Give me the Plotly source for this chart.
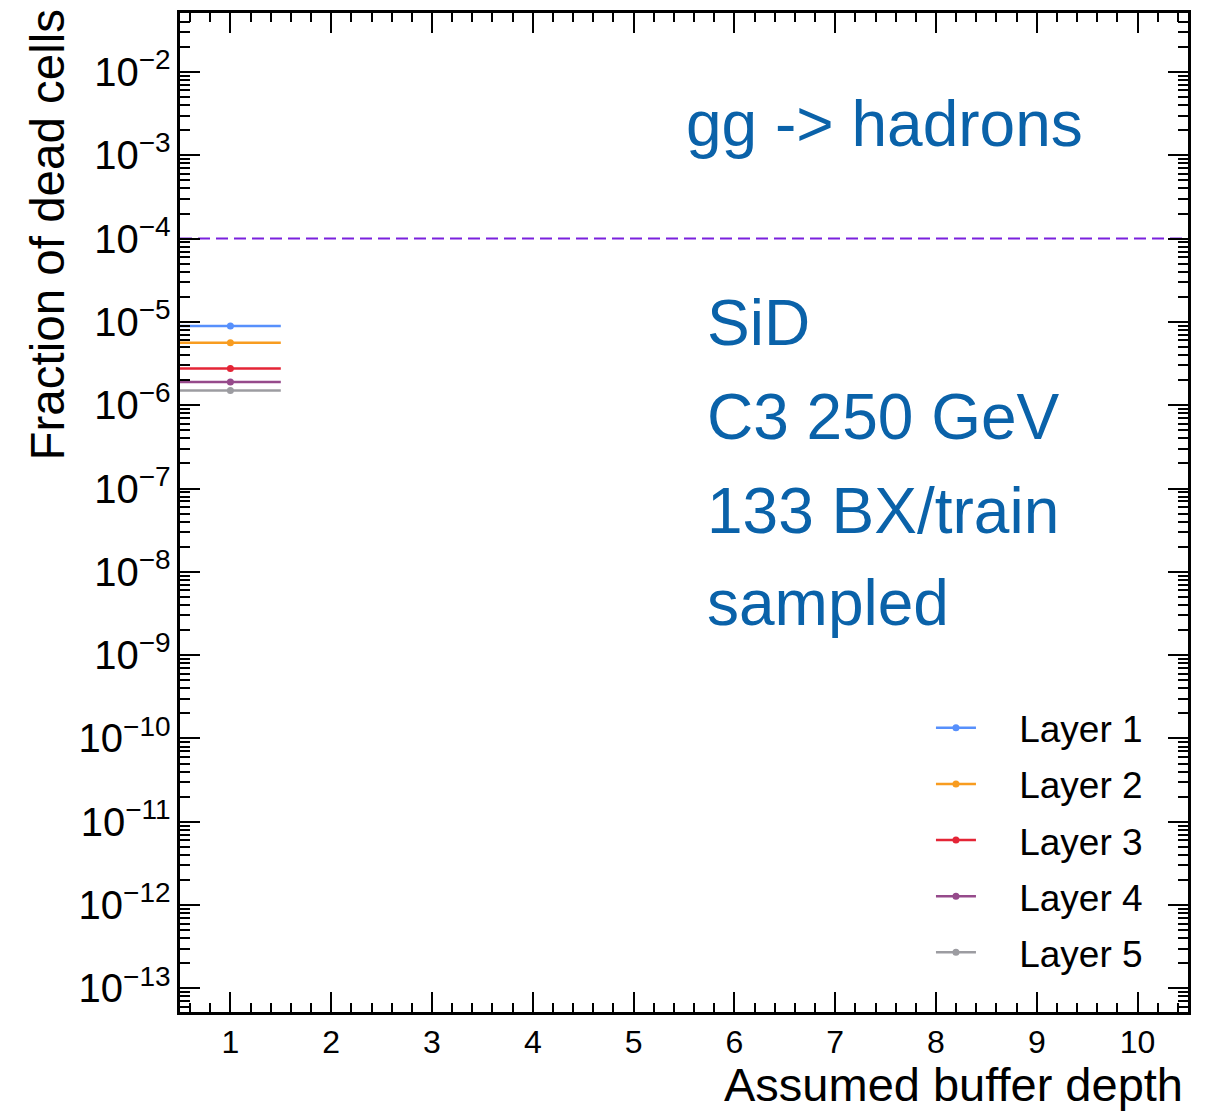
import plotly.graph_objects as go

# ---- data ----
layers = ["Layer 1", "Layer 2", "Layer 3", "Layer 4", "Layer 5"]
buffer_depth = [1]
bin_halfwidth = 0.5
fractions = [8.9e-6, 5.6e-6, 2.75e-6, 1.9e-6, 1.5e-6]
colors = ["#5790fc", "#f89c20", "#e42536", "#964a8b", "#9c9ca1"]
threshold = 1e-4
x_range = [0.5, 10.5]
x_ticks = [1, 2, 3, 4, 5, 6, 7, 8, 9, 10]
y_log_range = [-13.284, -1.292]
text_lines = ["SiD", "C3 250 GeV", "133 BX/train", "sampled"]
process_label = "gg -> hadrons"

FONT = "Liberation Sans, Arial, Helvetica, sans-serif"
TXT_BLUE = "#0a62a9"

fig = go.Figure()

# threshold dashed line
fig.add_trace(go.Scatter(
    x=x_range, y=[threshold, threshold], mode="lines",
    line=dict(color="#7a21dd", width=2, dash="12px,6px"),
    showlegend=False, hoverinfo="skip"))

for name, val, col in zip(layers, fractions, colors):
    fig.add_trace(go.Scatter(
        x=buffer_depth, y=[val], mode="markers",
        marker=dict(color=col, size=7),
        error_x=dict(type="constant", value=bin_halfwidth, width=0,
                     thickness=2.5, color=col),
        showlegend=False, name=name))
    # legend proxy
    fig.add_trace(go.Scatter(
        x=[None], y=[None], mode="lines+markers",
        name="&nbsp;&nbsp;&nbsp;\u2009" + name,
        line=dict(color=col, width=2.5), marker=dict(color=col, size=7),
        legendgroup=name, showlegend=True))

axis_common = dict(
    showline=True, linecolor="black", linewidth=3, mirror="allticks",
    ticks="inside", ticklen=20, tickwidth=1.5, tickcolor="black",
    showgrid=False, zeroline=False,
    tickfont=dict(family=FONT, size=32, color="black"),
)

fig.update_xaxes(range=x_range, tickmode="array", tickvals=x_ticks,
                 minor=dict(ticks="inside", ticklen=9, dtick=0.2,
                            tickcolor="black", tickwidth=1.5, showgrid=False),
                 **axis_common)
fig.update_yaxes(type="log", range=y_log_range, dtick=1,
                 exponentformat="power", showexponent="all",
                 minor=dict(ticks="inside", ticklen=10, dtick="D1",
                            tickcolor="black", tickwidth=1.5, showgrid=False),
                 **axis_common)

annotations = [
    dict(text="Fraction of dead cells", xref="paper", yref="paper",
         x=-0.131, y=1.006, xanchor="center", yanchor="top", textangle=-90,
         showarrow=False, font=dict(family=FONT, size=47.5, color="black")),
    dict(text="Assumed buffer depth", xref="paper", yref="paper",
         x=0.997, y=-0.073, xanchor="right", yanchor="middle",
         showarrow=False, font=dict(family=FONT, size=47, color="black")),
    dict(text=process_label, xref="paper", yref="paper",
         x=0.500, y=0.889, xanchor="left", yanchor="middle",
         showarrow=False, font=dict(family=FONT, size=64, color=TXT_BLUE)),
]
line_y = [0.690, 0.596, 0.502, 0.409]
for t, yy in zip(text_lines, line_y):
    annotations.append(dict(text=t, xref="paper", yref="paper",
                            x=0.521, y=yy, xanchor="left", yanchor="middle",
                            showarrow=False,
                            font=dict(family=FONT, size=64, color=TXT_BLUE)))

fig.update_layout(
    width=1211, height=1111,
    margin=dict(l=180, r=23, t=13, b=99, autoexpand=False),
    paper_bgcolor="white", plot_bgcolor="white",
    font=dict(family=FONT, color="black"),
    annotations=annotations,
    legend=dict(x=0.745, y=0.315, xanchor="left", yanchor="top",
                font=dict(family=FONT, size=37, color="black"),
                bgcolor="rgba(0,0,0,0)", itemwidth=40, tracegroupgap=5,
                traceorder="grouped"),
)

fig.write_html("out.html", config={"displayModeBar": False},
               post_script="document.body.style.margin='0';")
